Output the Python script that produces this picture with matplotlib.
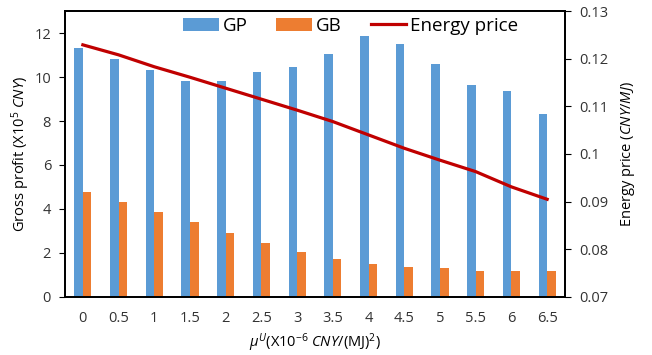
import matplotlib
matplotlib.use("Agg")
import matplotlib.pyplot as plt
import numpy as np

plt.rcParams['font.family'] = ['Open Sans', 'DejaVu Sans']
plt.rcParams['mathtext.fontset'] = 'custom'
plt.rcParams['mathtext.rm'] = 'Open Sans'
plt.rcParams['mathtext.it'] = 'Open Sans:italic'

# data
mu_labels = ["0", "0.5", "1", "1.5", "2", "2.5", "3", "3.5", "4", "4.5", "5", "5.5", "6", "6.5"]
gp = [11.3, 10.83, 10.32, 9.81, 9.84, 10.24, 10.47, 11.06, 11.85, 11.51, 10.59, 9.62, 9.37, 8.33]
gb = [4.79, 4.31, 3.85, 3.39, 2.90, 2.45, 2.04, 1.71, 1.48, 1.36, 1.30, 1.18, 1.18, 1.18]
energy_price = [0.1229, 0.1208, 0.1183, 0.1161, 0.1138, 0.1115, 0.1092, 0.1068,
                0.1040, 0.1012, 0.0987, 0.0963, 0.0931, 0.0905]

x = np.arange(len(mu_labels))
w = 0.24

fig = plt.figure(figsize=(6.52, 3.55), dpi=100)
ax = fig.add_axes([0.0997, 0.1634, 0.7669, 0.8056])
ax.bar(x - w / 2, gp, w, color="#5B9BD5", label="GP")
ax.bar(x + w / 2, gb, w, color="#ED7D31", label="GB")
ax.set_xlim(-0.5, len(mu_labels) - 0.5)
ax.set_ylim(0, 13)
ax.set_yticks(range(0, 13, 2))
ax.set_xticks(x)
ax.set_xticklabels(mu_labels)
ax.tick_params(axis="x", length=0, pad=10, labelsize=10.5, colors="#333333")
ax.tick_params(axis="y", length=4, pad=6, labelsize=10.5, labelcolor="#333333")
ax.set_ylabel(r"Gross profit (X10$^5$ $\it{CNY}$)", fontsize=10.5, labelpad=2)
ax.set_xlabel(r"$\mu^U$(X10$^{-6}$ $\it{CNY}$/(MJ)$^2$)", fontsize=10.5, labelpad=4)

ax2 = ax.twinx()
ax2.plot(x, energy_price, color="#C00000", lw=2.3, label="Energy price")
ax2.set_ylim(0.07, 0.13)
ax2.set_yticks([0.07, 0.08, 0.09, 0.1, 0.11, 0.12, 0.13])
ax2.set_yticklabels(["0.07", "0.08", "0.09", "0.1", "0.11", "0.12", "0.13"])
ax2.tick_params(axis="y", length=4, labelsize=10.5, labelcolor="#333333", pad=6)
ax2.set_ylabel(r"Energy price ($\it{CNY/MJ}$)", fontsize=10.5, labelpad=8)

for a in (ax, ax2):
    for s in a.spines.values():
        s.set_linewidth(1.3)

h1, l1 = ax.get_legend_handles_labels()
h2, l2 = ax2.get_legend_handles_labels()
leg = ax2.legend(h1 + h2, l1 + l2, loc="center", bbox_to_anchor=(0.571, 0.9476), ncol=3,
                 frameon=False, fontsize=13.5, handlelength=1.9, columnspacing=1.55,
                 handletextpad=0.2, borderpad=0, borderaxespad=0)

fig.savefig("out.png", dpi=100)
